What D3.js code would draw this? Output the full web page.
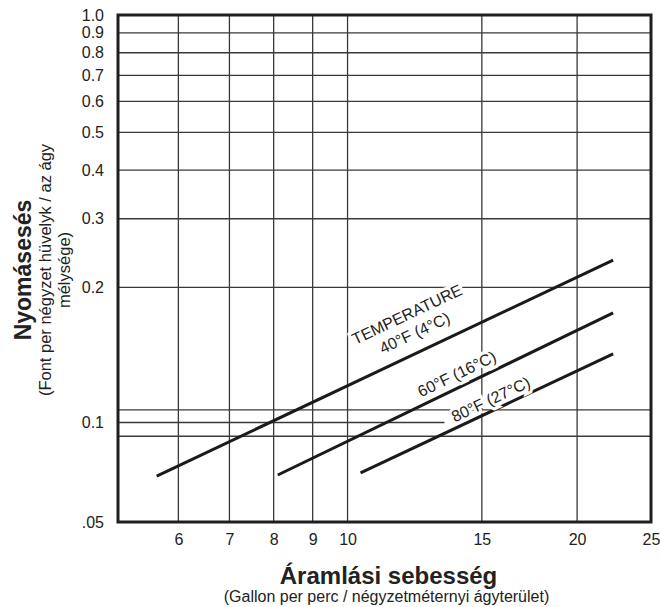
<!DOCTYPE html>
<html>
<head>
<meta charset="utf-8">
<script src="https://cdn.jsdelivr.net/npm/d3@7"></script>
<style>
  body { margin: 0; background: #fff; }
  svg { display: block; font-family: "Liberation Sans", Arial, sans-serif; }
</style>
</head>
<body>
<svg id="chart"></svg>
<script>
// Pressure drop vs. flow rate (log-log), three temperature lines

const xTickValues = [6, 7, 8, 9, 10, 15, 20, 25];
const yTickValues = [1.0, 0.9, 0.8, 0.7, 0.6, 0.5, 0.4, 0.3, 0.2, 0.09, 0.05];
const yTickLabels = ["1.0", "0.9", "0.8", "0.7", "0.6", "0.5", "0.4", "0.3", "0.2", "0.1", ".05"];
const yBandLines = [0.097, 0.083];   // the two extra rules around the 0.1 line
const bandCutFlow = 13.4;            // the 0.1 rule stops here

const seriesNames = ["40°F (4°C)", "60°F (16°C)", "80°F (27°C)"];
const flowStart = [5.62, 8.1, 10.4];
const flowEnd = [22.3, 22.3, 22.3];
const dropStart = [0.0656, 0.066, 0.0668];
const dropEnd = [0.235, 0.172, 0.135];

const headerLabel = "TEMPERATURE";
const xTitle = "Áramlási sebesség";
const xSubtitle = "(Gallon per perc / négyzetméternyi ágyterület)";
const yTitle = "Nyomásesés";
const ySubtitle = ["(Font per négyzet hüvelyk / az ágy", "mélysége)"];

const width = 660, height = 607;
const margin = { top: 15, right: 9, bottom: 85, left: 118 };

const svg = d3.select("#chart").attr("width", width).attr("height", height);

const x = d3.scaleLog().domain([5, 25]).range([margin.left, width - margin.right]);
const y = d3.scaleLog().domain([0.05, 1]).range([height - margin.bottom, margin.top]);

const gridColor = "#3a3a3a";

// grid
const grid = svg.append("g");
grid.selectAll("line.v")
    .data(xTickValues.filter(d => d < 25))
    .join("line")
    .attr("x1", d => x(d)).attr("x2", d => x(d))
    .attr("y1", y(1)).attr("y2", y(0.05))
    .attr("stroke", gridColor).attr("stroke-width", 1.3);

grid.selectAll("line.h")
    .data(yTickValues.filter(d => d < 1 && d > 0.05 && d !== 0.09).concat(yBandLines))
    .join("line")
    .attr("x1", x(5)).attr("x2", x(25))
    .attr("y1", d => y(d)).attr("y2", d => y(d))
    .attr("stroke", gridColor).attr("stroke-width", 1.3);

grid.append("line")
    .attr("x1", x(5)).attr("x2", x(bandCutFlow))
    .attr("y1", y(0.09)).attr("y2", y(0.09))
    .attr("stroke", gridColor).attr("stroke-width", 1.3);

// axes (labels only)
const xAxis = svg.append("g")
    .attr("transform", `translate(0,${y(0.05)})`)
    .call(d3.axisBottom(x).tickValues(xTickValues).tickSize(0).tickPadding(12).tickFormat(d3.format("d")));
const yAxis = svg.append("g")
    .attr("transform", `translate(${x(5)},0)`)
    .call(d3.axisLeft(y).tickValues(yTickValues).tickSize(0).tickPadding(14)
        .tickFormat((d, i) => yTickLabels[i]));

[xAxis, yAxis].forEach(g => {
    g.select(".domain").remove();
    g.selectAll("text")
        .attr("font-family", "Liberation Sans, Arial, sans-serif")
        .attr("font-size", 16)
        .attr("fill", "#222");
});

// temperature lines
const line = d3.line().x(d => x(d.flow)).y(d => y(d.drop));
seriesNames.forEach((name, i) => {
    const pts = [
        { flow: flowStart[i], drop: dropStart[i] },
        { flow: flowEnd[i], drop: dropEnd[i] }
    ];
    svg.append("path")
        .datum(pts)
        .attr("d", line)
        .attr("fill", "none")
        .attr("stroke", "#1a1a1a")
        .attr("stroke-width", 3);
});

// line labels, rotated along each line
const labelAt = [0.583, 0.551, 0.534];
const labelOffset = [19, 13, 11];
function labelPos(i, t, off) {
    const x0 = x(flowStart[i]), y0 = y(dropStart[i]);
    const x1 = x(flowEnd[i]), y1 = y(dropEnd[i]);
    const dx = x1 - x0, dy = y1 - y0, len = Math.hypot(dx, dy);
    const angle = Math.atan2(dy, dx) * 180 / Math.PI;
    const cx = x0 + dx * t + (dy / len) * off;
    const cy = y0 + dy * t - (dx / len) * off;
    return { cx, cy, angle };
}
function addLabel(text, p) {
    svg.append("text")
        .attr("transform", `translate(${p.cx},${p.cy}) rotate(${p.angle})`)
        .attr("text-anchor", "middle")
        .attr("dominant-baseline", "central")
        .attr("font-size", 16)
        .attr("fill", "#222")
        .attr("stroke", "#fff")
        .attr("stroke-width", 6)
        .attr("paint-order", "stroke")
        .text(text);
}
seriesNames.forEach((name, i) => addLabel(name, labelPos(i, labelAt[i], labelOffset[i])));
addLabel(headerLabel, labelPos(0, 0.585, 39));

// frame
svg.append("rect")
    .attr("x", x(5)).attr("y", y(1))
    .attr("width", x(25) - x(5)).attr("height", y(0.05) - y(1))
    .attr("fill", "none").attr("stroke", "#1f1f1f").attr("stroke-width", 3);

// axis titles
const midX = (x(5) + x(25)) / 2;
svg.append("text")
    .attr("x", midX + 4).attr("y", 584)
    .attr("text-anchor", "middle")
    .attr("font-size", 24).attr("font-weight", "bold").attr("fill", "#222")
    .text(xTitle);
svg.append("text")
    .attr("x", midX + 2).attr("y", 602)
    .attr("text-anchor", "middle")
    .attr("font-size", 16).attr("fill", "#222")
    .text(xSubtitle);

const midY = 270;
svg.append("text")
    .attr("transform", `translate(31,${midY}) rotate(-90)`)
    .attr("text-anchor", "middle")
    .attr("font-size", 23).attr("font-weight", "bold").attr("fill", "#222")
    .text(yTitle);
ySubtitle.forEach((t, i) => {
    svg.append("text")
        .attr("transform", `translate(${51 + i * 19},${midY}) rotate(-90)`)
        .attr("text-anchor", "middle")
        .attr("font-size", 16.5).attr("fill", "#222")
        .text(t);
});
</script>
</body>
</html>
